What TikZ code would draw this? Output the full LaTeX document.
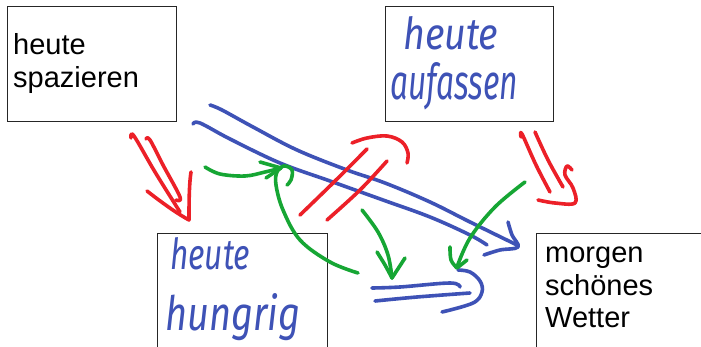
\documentclass[tikz,border=0pt]{standalone}
\usepackage{fontspec}
\setmainfont{Liberation Sans}
\newfontfamily\handfont{Fira Sans}
\usepackage{graphicx}

\definecolor{penblue}{RGB}{62,82,182}
\definecolor{penred}{RGB}{236,32,40}
\definecolor{pengreen}{RGB}{22,166,52}

\tikzset{
  card/.style={draw=black!85, line width=1.1pt, rectangle, anchor=north west, inner sep=0pt},
  printed/.style={anchor=base west, inner sep=0pt, font=\fontsize{29}{33}\selectfont},
  ink/.style={anchor=base west, inner sep=0pt, text=penblue, font=\handfont\itshape},
  pen/.style={line width=3.6pt, line cap=round, line join=round},
  sm/.style={smooth, tension=0.6},
}

\begin{document}
\begin{tikzpicture}[x=1pt,y=-1pt]
\useasboundingbox (0,0) rectangle (701,347);
\clip (0,0) rectangle (701,347);
\fill[white] (0,0) rectangle (701,347);

% four cards
\node[card, minimum width=169pt, minimum height=115pt] (spaz) at (7,6) {};
\node[card, minimum width=168pt, minimum height=115pt] (auf) at (385,6) {};
\node[card, minimum width=170pt, minimum height=130pt] (hung) at (157,233) {};
\node[card, minimum width=180pt, minimum height=130pt] (wett) at (536,233) {};

% printed texts
\node[printed] (spazA) at (13,55) {heute};
\node[printed] (spazB) at (13,88) {spazieren};
\node[printed] (wettA) at (545,263) {morgen};
\node[printed] (wettB) at (545,295) {schönes};
\node[printed] (wettC) at (545,327) {Wetter};

% handwritten texts
\node[ink] (aufA) at (403,50) {\resizebox{95pt}{33pt}{heute}};
\node[ink] (aufB) at (390,100) {\resizebox{128pt}{37pt}{aufassen}};
\node[ink] (hungA) at (170,270) {\resizebox{80pt}{32pt}{heute}};
\node[ink] (hungB) at (165,330) {\resizebox{135pt}{37pt}{hungrig}};

% blue double arrow, upper left to lower right
\draw[pen, penblue] plot[sm] coordinates {(210,105) (222,110) (253,127) (297,150) (347,170) (385,183) (430,202) (470,222) (517,245)};
\draw[pen, penblue] plot[sm] coordinates {(193,124) (200,123) (230,139) (280,163) (330,181) (383,200) (430,217) (470,235) (487,245)};
\draw[pen, penblue] plot[sm] coordinates {(508,222) (512,235) (518,247) (500,250) (484,255)};

% blue double arrow at the bottom
\draw[pen, penblue] plot[sm] coordinates {(372,288) (400,287) (450,283) (460,287)};
\draw[pen, penblue] plot[sm] coordinates {(375,301) (417,297) (470,293)};
\draw[pen, penblue] plot[sm] coordinates {(458,270) (470,272) (480,281) (482,292) (473,303) (442,312)};

% red hairpin in the middle
\draw[pen, penred] plot[sm] coordinates {(300,215) (333,183) (367,149)};
\draw[pen, penred] plot[sm] coordinates {(327,220) (360,190) (387,161)};
\draw[pen, penred] plot[sm] coordinates {(352,143) (367,138) (387,136) (402,142) (408,153) (407,163)};

% red double arrow on the left
\draw[pen, penred] plot[sm] coordinates {(131,138) (134,136) (155,172) (180,212)};
\draw[pen, penred] plot[sm] coordinates {(146,139) (150,140) (163,165) (180,197) (176,200)};
\draw[pen, penred] (147,191) .. controls (165,205) and (178,214) .. (189,220) .. controls (189,205) and (189,185) .. (191,172);

% red double arrow on the right
\draw[pen, penred] plot[sm] coordinates {(521,137) (522,134) (536,165) (550,192)};
\draw[pen, penred] plot[sm] coordinates {(535,132) (548,160) (563,187)};
\draw[pen, penred] plot[sm] coordinates {(538,200) (555,203) (575,203) (573,188) (565,175) (567,166) (572,170)};

% green arrows
\draw[pen, pengreen] plot[sm] coordinates {(205,167) (220,174) (245,176) (265,172) (281,168)};
\draw[pen, pengreen] (260,162) -- (281,168) -- (266,178);
\draw[pen, pengreen] plot[sm] coordinates {(358,273) (330,262) (300,240) (283,210) (276,185) (277,172) (284,166) (292,170) (291,180) (287,185)};
\draw[pen, pengreen] plot[sm] coordinates {(362,210) (378,232) (388,255) (392,278)};
\draw[pen, pengreen] plot[sm] coordinates {(377,252) (385,265) (392,278)} -- (405,258);
\draw[pen, pengreen] plot[sm] coordinates {(525,182) (495,207) (470,238) (457,267)};
\draw[pen, pengreen] plot[sm] coordinates {(450,247) (451,260) (457,268)} -- (467,260);
\end{tikzpicture}
\end{document}
